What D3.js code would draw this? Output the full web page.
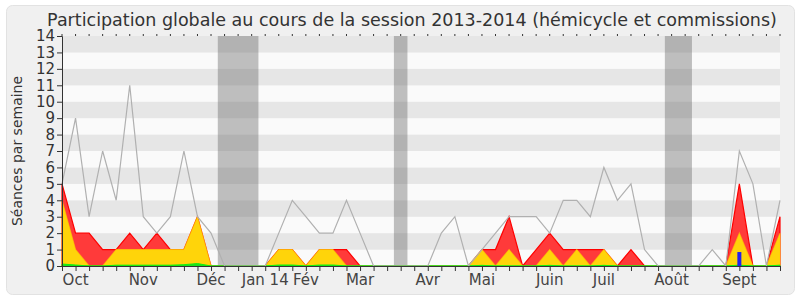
<!DOCTYPE html>
<html>
<head>
<meta charset="utf-8">
<script src="https://cdn.jsdelivr.net/npm/d3@7"></script>
<style>
  body { margin: 0; background: #fff; }
  svg text { font-family: "DejaVu Sans", Verdana, sans-serif; }
</style>
</head>
<body>
<div id="chart"></div>
<script>
// weekly values, session 2013-2014 (54 weeks)
const weeks = d3.range(54);
const median = [5, 9, 3, 7, 4, 11, 3, 2, 3, 7, 3, 2, 0, 0, 0, 0, 2, 4, 3, 2, 2, 4, 2, 0, 0, 0, 0, 0, 2, 3, 0, 1, 2, 3, 3, 3, 2, 4, 4, 3, 6, 4, 5, 1, 0, 0, 0, 0, 1, 0, 7, 5, 0, 4];
const presences = [5, 2, 2, 1, 1, 2, 1, 2, 1, 1, 3, 0, 0, 0, 0, 0, 1, 1, 0, 1, 1, 1, 0, 0, 0, 0, 0, 0, 0, 0, 0, 1, 1, 3, 0, 1, 2, 1, 1, 1, 1, 0, 1, 0, 0, 0, 0, 0, 0, 0, 5, 0, 0, 3];
const hemicycle = [4, 1, 0, 0, 1, 1, 1, 1, 1, 1, 3, 0, 0, 0, 0, 0, 1, 1, 0, 1, 1, 0, 0, 0, 0, 0, 0, 0, 0, 0, 0, 1, 0, 1, 0, 0, 1, 0, 1, 0, 1, 0, 0, 0, 0, 0, 0, 0, 0, 0, 2, 0, 0, 2];
const interventions = [0.12, 0.06, 0, 0, 0.05, 0.05, 0.05, 0.05, 0.05, 0.08, 0.15, 0, 0, 0, 0, 0, 0.06, 0.06, 0, 0.06, 0.06, 0, 0, 0, 0, 0, 0, 0, 0, 0, 0, 0.04, 0, 0, 0, 0, 0.04, 0, 0, 0, 0.04, 0, 0, 0, 0, 0, 0, 0, 0, 0, 0.05, 0, 0, 0.05];
const questions = [0, 0, 0, 0, 0, 0, 0, 0, 0, 0, 0, 0, 0, 0, 0, 0, 0, 0, 0, 0, 0, 0, 0, 0, 0, 0, 0, 0, 0, 0, 0, 0, 0, 0, 0, 0, 0, 0, 0, 0, 0, 0, 0, 0, 0, 0, 0, 0, 0, 0, 0.85, 0, 0, 0];
const vacances = [[11.5, 14.5], [24.5, 25.5], [44.5, 46.5]];
const monthLabels = ["Oct", "Nov", "Déc", "Jan 14", "Fév", "Mar", "Avr", "Mai", "Juin", "Juil", "Août", "Sept"];
const monthWeeks = [1, 6, 11, 15, 18, 22, 27, 31, 36, 40, 45, 50];

const width = 800, height = 300;
const margin = {top: 36, right: 20, bottom: 34, left: 62};

const svg = d3.select("#chart").append("svg")
    .attr("width", width)
    .attr("height", height);

svg.append("rect")
    .attr("x", 6.5).attr("y", 5.5)
    .attr("width", 788).attr("height", 289)
    .attr("rx", 6)
    .attr("fill", "#f0f0f0")
    .attr("stroke", "#e2e2e2");

const x = d3.scaleLinear().domain([0, 53]).range([margin.left, width - margin.right]);
const y = d3.scaleLinear().domain([0, 14]).range([height - margin.bottom, margin.top]);

// stripes
svg.append("g").selectAll("rect")
    .data(d3.range(14))
    .join("rect")
    .attr("x", x(0))
    .attr("width", x(53) - x(0))
    .attr("y", d => y(d + 1))
    .attr("height", d => y(d) - y(d + 1))
    .attr("fill", d => d % 2 ? "#e6e6e6" : "#fafafa");

// vacations
svg.append("g").selectAll("rect")
    .data(vacances)
    .join("rect")
    .attr("x", d => x(d[0]))
    .attr("width", d => x(d[1]) - x(d[0]))
    .attr("y", y(14))
    .attr("height", y(0) - y(14))
    .attr("fill", "rgba(100,100,100,0.4)");

const area = vals => d3.area()
    .x((d, i) => x(i))
    .y0(y(0))
    .y1((d, i) => y(vals[i]))(weeks);

const line = vals => d3.line()
    .x((d, i) => x(i))
    .y((d, i) => y(vals[i]))(weeks);

svg.append("path")
    .attr("d", area(presences))
    .attr("fill", "#ff3a3a")
    .attr("stroke", "#ff0000")
    .attr("stroke-width", 1.2);

svg.append("path")
    .attr("d", area(hemicycle))
    .attr("fill", "#ffd40a")
    .attr("stroke", "rgba(255,210,0,0.6)")
    .attr("stroke-width", 1.2);

svg.append("path")
    .attr("d", area(interventions))
    .attr("fill", "#22dd22")
    .attr("stroke", "#11ee11")
    .attr("stroke-width", 1);

svg.append("g").selectAll("rect")
    .data(weeks.filter(i => questions[i] > 0))
    .join("rect")
    .attr("x", i => x(i) - 2)
    .attr("width", 4)
    .attr("y", i => y(questions[i]))
    .attr("height", i => y(0) - y(questions[i]))
    .attr("fill", "#2222ee");

svg.append("path")
    .attr("d", line(median))
    .attr("fill", "none")
    .attr("stroke", "#b0b0b0")
    .attr("stroke-width", 1.2);

// axes
const yAxis = svg.append("g")
    .attr("transform", `translate(${x(0)},0)`)
    .call(d3.axisLeft(y).ticks(14).tickSize(5).tickPadding(2));
yAxis.select(".domain").attr("stroke", "#333");
yAxis.selectAll("line").attr("stroke", "#333");
yAxis.selectAll("text").attr("font-size", 15).attr("fill", "#333").attr("font-family", "DejaVu Sans");

const xAxis = svg.append("g")
    .attr("transform", `translate(0,${y(0)})`)
    .call(d3.axisBottom(x).tickValues(weeks).tickSize(5).tickFormat(""));
xAxis.select(".domain").attr("stroke", "#333");
xAxis.selectAll("line").attr("stroke", "#333");

// top tick dots
svg.append("g").selectAll("line")
    .data(weeks)
    .join("line")
    .attr("x1", d => x(d)).attr("x2", d => x(d))
    .attr("y1", y(14) - 2).attr("y2", y(14))
    .attr("stroke", "#333");

svg.append("g").selectAll("text")
    .data(monthLabels)
    .join("text")
    .attr("x", (d, i) => x(monthWeeks[i]))
    .attr("y", 285)
    .attr("text-anchor", "middle")
    .attr("font-size", 15)
    .attr("fill", "#444")
    .text(d => d);

svg.append("text")
    .attr("transform", `translate(22,${(y(0) + y(14)) / 2}) rotate(-90)`)
    .attr("text-anchor", "middle")
    .attr("font-size", 14)
    .attr("fill", "#333")
    .text("Séances par semaine");

svg.append("text")
    .attr("x", 412)
    .attr("y", 26)
    .attr("text-anchor", "middle")
    .attr("font-size", 17.5)
    .attr("fill", "#333")
    .text("Participation globale au cours de la session 2013-2014 (hémicycle et commissions)");
</script>
</body>
</html>
